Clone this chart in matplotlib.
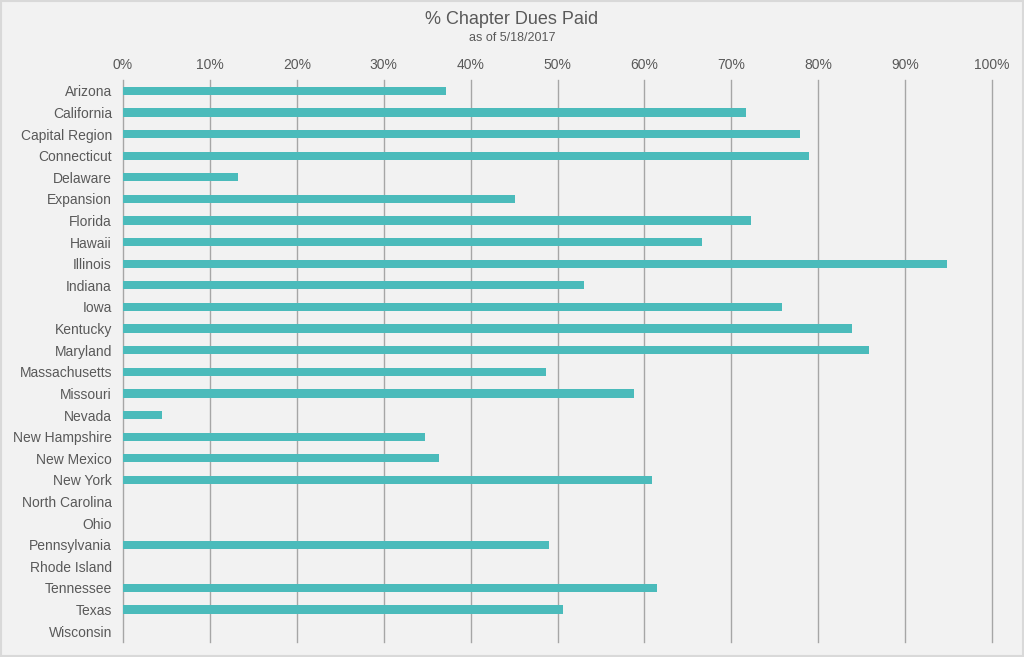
import matplotlib
matplotlib.use("Agg")
import matplotlib.pyplot as plt
from matplotlib.ticker import PercentFormatter, MultipleLocator

states = ["Arizona", "California", "Capital Region", "Connecticut", "Delaware",
          "Expansion", "Florida", "Hawaii", "Illinois", "Indiana", "Iowa",
          "Kentucky", "Maryland", "Massachusetts", "Missouri", "Nevada",
          "New Hampshire", "New Mexico", "New York", "North Carolina", "Ohio",
          "Pennsylvania", "Rhode Island", "Tennessee", "Texas", "Wisconsin"]
pct_paid = [37.2, 71.7, 77.9, 78.9, 13.2, 45.1, 72.3, 66.6, 94.8, 53.0, 75.8,
            83.9, 85.8, 48.7, 58.8, 4.5, 34.8, 36.4, 60.9, 0, 0, 49.0, 0,
            61.4, 50.6, 0]
pct_paid = [v / 100 for v in pct_paid]

plt.rcParams['font.family'] = ['Liberation Sans', 'DejaVu Sans']
text_color = '#595959'
bg = '#f2f2f2'

fig = plt.figure(figsize=(10.24, 6.57), dpi=100, facecolor=bg)
ax = fig.add_axes([123/1024, 1 - 642/657, (992-123)/1024, (642-80)/657])
ax.set_facecolor(bg)

y = list(range(len(states)))
ax.barh(y, pct_paid, height=0.38, color='#4bbbbb', zorder=3)
ax.set_ylim(len(states) - 0.5, -0.5)
ax.set_yticks(y)
ax.set_yticklabels(states)
ax.set_xlim(0, 1)
ax.xaxis.set_major_locator(MultipleLocator(0.1))
ax.xaxis.set_major_formatter(PercentFormatter(1.0, decimals=0))
ax.xaxis.tick_top()
ax.tick_params(axis='both', length=0, colors=text_color, labelsize=10)
ax.tick_params(axis='x', pad=6)
ax.tick_params(axis='y', pad=8)
ax.grid(axis='x', color='#a6a6a6', linewidth=1, zorder=0)
for gl in ax.get_xgridlines():
    gl.set_clip_on(False)
for s in ax.spines.values():
    s.set_visible(False)

fig.text(0.5, 1 - 20/657, '% Chapter Dues Paid', ha='center', va='center',
         fontsize=13, color=text_color)
fig.text(0.5, 1 - 38/657, 'as of 5/18/2017', ha='center', va='center',
         fontsize=9, color=text_color)

# light border
fig.patches.append(plt.Rectangle((0.001, 0.001), 0.998, 0.998, transform=fig.transFigure,
                                 fill=False, edgecolor='#d9d9d9', linewidth=1.5))

fig.savefig('out.png', dpi=100, facecolor=bg)
